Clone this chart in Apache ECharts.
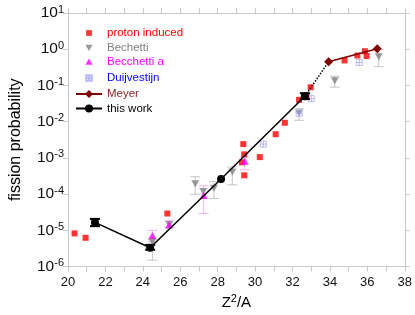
<!DOCTYPE html>
<html><head><meta charset="utf-8">
<script src="https://cdn.jsdelivr.net/npm/echarts@6/dist/echarts.min.js"></script>
<style>html,body{margin:0;padding:0;background:#fff}#c{width:415px;height:315px}</style>
</head><body><div id="c"></div>
<script>
const xTicks = [20, 38, 2];
const proton = [[20.35,8.2e-6],[20.94,6.2e-6],[25.31,2.9e-5],[29.3,7.5e-4],[29.37,2.4e-3],[29.42,1.25e-3],[29.42,3.3e-4],[30.25,1.05e-3],[31.1,4.5e-3],[31.59,9.3e-3],[32.35,0.04],[32.75,0.052],[32.97,0.089],[34.78,0.49],[35.47,0.67],[35.87,0.88],[35.96,0.65]];
const bechetti = [[24.51,4.8e-6],[25.41,1.45e-5],[26.8,1.93e-4],[27.23,1.17e-4],[27.8,1.44e-4],[28.78,4.1e-4],[32.35,0.0174],[34.26,0.134],[36.61,0.62]];
const bechettiErr = [[24.51,1.5e-6,5.5e-6],[26.8,9.9e-5,3e-4],[27.8,7.5e-5,2.2e-4],[28.78,1.8e-4,5.6e-4],[32.35,0.0109,0.0227],[34.26,0.09,0.18],[36.61,0.33,0.98]];
const becchettiA = [[24.51,7.2e-6],[25.41,1.4e-5],[27.25,9.1e-5],[29.45,8e-4]];
const becchettiAErr = [[24.51,4.8e-6,1e-5],[25.41,1.2e-5,1.9e-5],[27.25,2.9e-5,1.7e-4],[29.45,4.7e-4,1.05e-3]];
const duijvestijn = [[30.44,2.4e-3],[32.35,0.017],[33.0,0.043],[35.57,0.43]];
const meyer = [[33.93,0.45],[36.53,1.03]];
const thisWork = [[21.44,1.65e-5],[24.39,3.3e-6],[28.18,2.6e-4],[32.66,0.05]];
const thisWorkErr = [[21.44,1.3e-5,2.06e-5],[24.39,2.9e-6,3.95e-6],[32.66,0.042,0.061]];

const FONT = 'Liberation Sans, Arial, sans-serif';
const AX = '#c8c8c8';
function errRender(color, cap, lw) {
  return function (params, api) {
    const x = api.value(0), lo = api.value(1), hi = api.value(2);
    const p1 = api.coord([x, lo]), p2 = api.coord([x, hi]);
    const st = {stroke: color, lineWidth: lw};
    return {type: 'group', children: [
      {type: 'line', shape: {x1: p1[0], y1: p1[1], x2: p2[0], y2: p2[1]}, style: st},
      {type: 'line', shape: {x1: p1[0]-cap, y1: p1[1], x2: p1[0]+cap, y2: p1[1]}, style: st},
      {type: 'line', shape: {x1: p2[0]-cap, y1: p2[1], x2: p2[0]+cap, y2: p2[1]}, style: st}
    ]};
  };
}
const chart = echarts.init(document.getElementById('c'), null, {renderer: 'canvas'});
const xBase = {type: 'value', min: xTicks[0], max: xTicks[1], interval: xTicks[2],
  axisLine: {show: true, lineStyle: {color: AX}}, splitLine: {show: false},
  axisTick: {show: true, length: 5, lineStyle: {color: AX}},
  minorTick: {show: true, splitNumber: 2, length: 5, lineStyle: {color: AX}}};
const yBase = {type: 'log', logBase: 10, min: 1e-6, max: 10, interval: 1,
  axisLine: {show: true, lineStyle: {color: AX}}, splitLine: {show: false},
  axisTick: {show: true, length: 5, lineStyle: {color: AX}}, minorTick: {show: false}};
const sq = 'path://M0,0 L10,0 L10,10 L0,10 Z';
const upTri = 'path://M5,0 L10,9 L0,9 Z';
const downTri = 'path://M0,0 L10,0 L5,9 Z';
const crossSq = 'path://M0,0 L10,0 L10,10 L0,10 Z M5,0 L5,10 M0,5 L10,5';
const pad = 'M-2,-2 M12,12 ';
chart.setOption({
  animation: false,
  grid: {left: 60, right: 8, top: 13, bottom: 45},
  legend: {
    orient: 'vertical', left: 70, top: 22, itemWidth: 26, itemHeight: 10, itemGap: 2.5, symbolKeepAspect: true,
    textStyle: {fontFamily: FONT, fontSize: 11.5},
    data: [
      {name: 'proton induced', icon: 'path://' + pad + 'M1,1 L9,1 L9,9 L1,9 Z', textStyle: {color: '#ff0000'}},
      {name: 'Bechetti', icon: 'path://' + pad + 'M0,1 L10,1 L5,10 Z', textStyle: {color: '#808080'}},
      {name: 'Becchetti a', icon: 'path://' + pad + 'M5,0 L10,9 L0,9 Z', textStyle: {color: '#ff00ff'}},
      {name: 'Duijvestijn', icon: 'path://' + pad + 'M1,1 L9,1 L9,9 L1,9 Z M5,1 L5,9 M1,5 L9,5', textStyle: {color: '#0000ff'}},
      {name: 'Meyer', textStyle: {color: '#8b1a1a'}},
      {name: 'this work', textStyle: {color: '#000000'}}
    ]
  },
  xAxis: [
    Object.assign({}, xBase, {position: 'bottom', name: '{b|Z}{s|2}{b|/A}', nameLocation: 'middle', nameGap: 27,
      nameTextStyle: {rich: {b: {fontFamily: FONT, fontSize: 15, color: '#000'}, s: {fontFamily: FONT, fontSize: 11, color: '#000', verticalAlign: 'bottom', padding: [0,0,7,0]}}},
      axisLabel: {fontFamily: FONT, fontSize: 13, color: '#111', margin: 9}}),
    Object.assign({}, xBase, {position: 'top', axisLabel: {show: false}})
  ],
  yAxis: [
    Object.assign({}, yBase, {position: 'left', name: 'fission probability', nameLocation: 'middle', nameGap: 44,
      nameTextStyle: {fontFamily: FONT, fontSize: 16, color: '#000'},
      axisLabel: {margin: 4, formatter: function (v) { return '{b|10}{s|' + Math.round(Math.log10(v)) + '}'; },
        rich: {b: {fontFamily: FONT, fontSize: 15.5, color: '#111'}, s: {fontFamily: FONT, fontSize: 11, color: '#111', verticalAlign: 'bottom', padding: [0,0,7,0]}}}}),
    Object.assign({}, yBase, {position: 'right', axisLabel: {show: false}})
  ],
  series: [
    {name: 'bechettiErr', type: 'custom', renderItem: errRender('#c4c4c4', 5, 1), encode: {x: 0, y: [1, 2]}, data: bechettiErr, z: 1},
    {name: 'becchettiAErr', type: 'custom', renderItem: errRender('#f7b0f7', 5, 1), encode: {x: 0, y: [1, 2]}, data: becchettiAErr, z: 1},
    {name: 'proton induced', type: 'scatter', symbol: sq, symbolSize: 6, itemStyle: {color: '#ff0000'}, data: proton, z: 3},
    {name: 'Bechetti', type: 'scatter', symbol: downTri, symbolSize: [8, 7], itemStyle: {color: '#808080'}, data: bechetti, z: 3},
    {name: 'Becchetti a', type: 'scatter', symbol: upTri, symbolSize: [8, 7], itemStyle: {color: '#ff00ff'}, data: becchettiA, z: 3},
    {name: 'Duijvestijn', type: 'scatter', symbol: crossSq, symbolSize: 6, itemStyle: {color: 'none', borderColor: '#a8a8ff', borderWidth: 1}, data: duijvestijn, z: 3},
    {name: 'Meyer', type: 'line', symbol: 'diamond', symbolSize: 9, showSymbol: true, itemStyle: {color: '#800000'}, lineStyle: {color: '#800000', width: 1.5}, data: meyer, z: 4},
    {name: 'link', type: 'line', symbol: 'none', lineStyle: {color: '#000', width: 1.5, type: 'dotted'}, data: [thisWork[thisWork.length-1], meyer[0]], z: 4},
    {name: 'thisErr', type: 'custom', renderItem: errRender('#000', 5, 2), encode: {x: 0, y: [1, 2]}, data: thisWorkErr, z: 5},
    {name: 'this work', type: 'line', symbol: 'circle', symbolSize: 8, showSymbol: true, itemStyle: {color: '#000'}, lineStyle: {color: '#000', width: 1.5}, data: thisWork, z: 6}
  ]
});
</script></body></html>
